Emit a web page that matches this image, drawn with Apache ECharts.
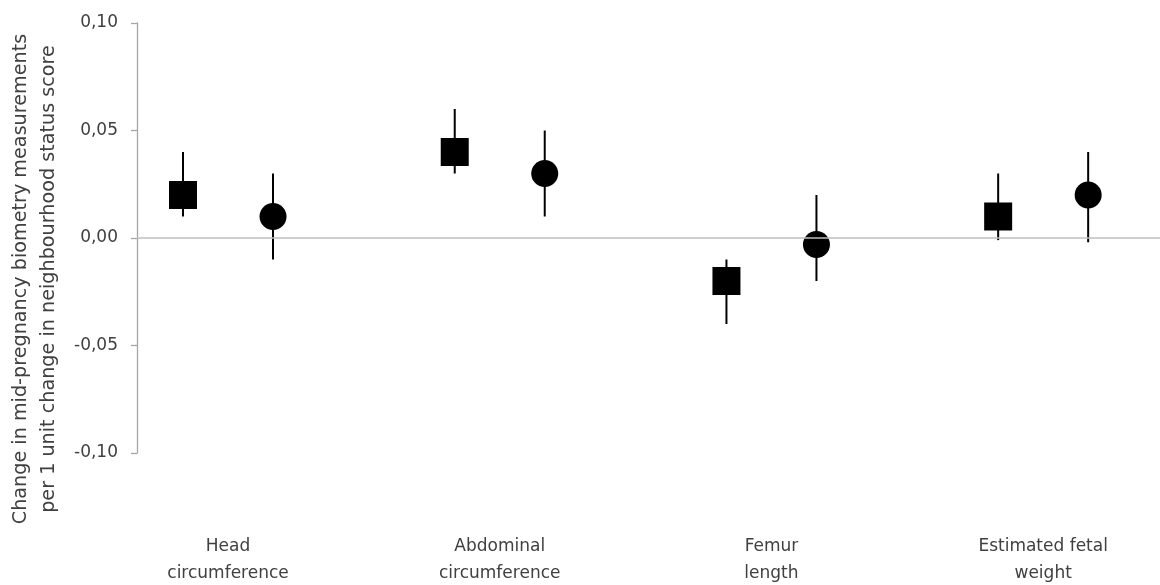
<!DOCTYPE html>
<html>
<head>
<meta charset="utf-8">
<script src="https://cdn.jsdelivr.net/npm/echarts@6/dist/echarts.min.js"></script>
<style>
  html, body { margin: 0; padding: 0; background: #fff; }
  #chart { width: 1160px; height: 585px; }
</style>
</head>
<body>
<div id="chart"></div>
<script>
// Fetal biometry outcomes (x categories)
const categories = ['Head\ncircumference', 'Abdominal\ncircumference', 'Femur\nlength', 'Estimated fetal\nweight'];

// Square markers: estimate with lower / upper bounds
const squareEst   = [0.020, 0.040, -0.020, 0.010];
const squareLower = [0.010, 0.030, -0.040, -0.001];
const squareUpper = [0.040, 0.060, -0.010, 0.030];

// Circle markers: estimate with lower / upper bounds
const circleEst   = [0.010, 0.030, -0.003, 0.020];
const circleLower = [-0.010, 0.010, -0.020, -0.002];
const circleUpper = [0.030, 0.050, 0.020, 0.040];

// Y axis ticks
const yTicks = { min: -0.10, max: 0.10, interval: 0.05 };

const yTitle = 'Change in mid-pregnancy biometry measurements\nper 1 unit change in neighbourhood status score';

const FONT = 'DejaVu Sans';
const TEXT = '#404040';
const SHIFT = 45; // horizontal pixel shift of each marker pair from the category centre

function pointsOf(est) { return est.map((v, i) => [i + 1, v]); }
function barsOf(lo, hi) { return lo.map((v, i) => [i + 1, v, hi[i]]); }

function errorBars(shift) {
  return function (params, api) {
    const a = api.coord([api.value(0), api.value(1)]);
    const b = api.coord([api.value(0), api.value(2)]);
    return {
      type: 'line',
      shape: { x1: a[0] + shift, y1: a[1], x2: b[0] + shift, y2: b[1] },
      style: { stroke: '#000', lineWidth: 2 }
    };
  };
}

const chart = echarts.init(document.getElementById('chart'));
chart.setOption({
  animation: false,
  backgroundColor: '#fff',
  grid: { left: 137, right: 0, top: 23, bottom: 132, containLabel: false, outerBoundsMode: 'none' },
  xAxis: {
    type: 'value',
    min: 0.665,
    max: 4.43,
    axisLine: { show: false },
    axisTick: { show: false },
    splitLine: { show: false },
    axisLabel: {
      customValues: [1, 2, 3, 4],
      formatter: v => categories[Math.round(v) - 1],
      margin: 80,
      fontFamily: FONT,
      fontSize: 17,
      lineHeight: 27,
      color: TEXT,
      align: 'center'
    }
  },
  yAxis: {
    type: 'value',
    min: yTicks.min,
    max: yTicks.max,
    interval: yTicks.interval,
    name: yTitle,
    nameLocation: 'middle',
    nameGap: 73,
    nameTextStyle: {
      fontFamily: FONT,
      fontSize: 19.2,
      lineHeight: 28,
      color: TEXT,
      align: 'center',
      padding: [0, 82, 0, 0]
    },
    axisLine: { show: true, lineStyle: { color: '#a6a6a6', width: 1.3 } },
    axisTick: { show: true, length: 6, lineStyle: { color: '#a6a6a6', width: 1.3 } },
    splitLine: { show: false },
    axisLabel: {
      margin: 19,
      fontFamily: FONT,
      fontSize: 17,
      color: TEXT,
      formatter: v => v.toFixed(2).replace('.', ',').replace('-0,00', '0,00')
    }
  },
  series: [
    {
      name: 'Square error bars',
      type: 'custom',
      renderItem: errorBars(-SHIFT),
      data: barsOf(squareLower, squareUpper),
      encode: { x: 0, y: [1, 2] },
      z: 2,
      markLine: {
        silent: true,
        symbol: 'none',
        label: { show: false },
        lineStyle: { color: '#bfbfbf', width: 1.5, type: 'solid' },
        data: [{ yAxis: 0 }]
      }
    },
    {
      name: 'Circle error bars',
      type: 'custom',
      renderItem: errorBars(SHIFT),
      data: barsOf(circleLower, circleUpper),
      encode: { x: 0, y: [1, 2] },
      z: 2
    },
    {
      name: 'Square',
      type: 'scatter',
      symbol: 'rect',
      symbolSize: 28,
      symbolOffset: [-SHIFT, 0],
      itemStyle: { color: '#000', opacity: 1 },
      data: pointsOf(squareEst),
      z: 3
    },
    {
      name: 'Circle',
      type: 'scatter',
      symbol: 'circle',
      symbolSize: 27,
      symbolOffset: [SHIFT, 0],
      itemStyle: { color: '#000', opacity: 1 },
      data: pointsOf(circleEst),
      z: 3
    }
  ]
});
</script>
</body>
</html>
